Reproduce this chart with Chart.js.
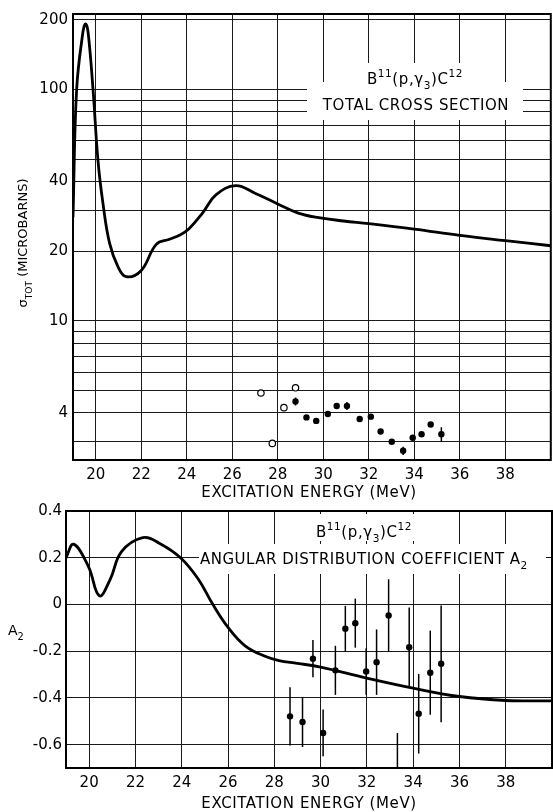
<!DOCTYPE html>
<html>
<head>
<meta charset="utf-8">
<script src="https://cdn.jsdelivr.net/npm/chart.js@4.4.0/dist/chart.umd.min.js"></script>
<style>
html, body { margin: 0; padding: 0; background: #fff; overflow: hidden; width: 553px; height: 812px; }
canvas { position: absolute; left: 0; }
#top { top: 0; }
#bottom { top: 495px; }
</style>
</head>
<body>
<canvas id="top" width="556" height="500"></canvas>
<canvas id="bottom" width="556" height="317"></canvas>
<script>
// Total cross section curve (MeV, microbarns)
const sigmaCurveE = [19.0, 19.16, 19.44, 19.55, 19.66, 19.88, 20.1, 20.32, 20.61, 20.98, 21.34, 22.0, 22.66, 23.24, 23.7, 24.1, 24.7, 25.28, 26.15, 27.0, 28.0, 28.9, 29.8, 30.9, 32.0, 34.0, 36.0, 38.0, 40.0];
const sigmaCurve = [28, 100, 178, 192, 178, 100, 49, 32, 21.6, 17.1, 15.5, 16.5, 21.4, 22.5, 23.5, 25, 29.3, 35, 38.4, 35.6, 32, 29.2, 27.9, 27.0, 26.3, 24.9, 23.4, 22.2, 21.1];

// measured points, open circles
const openE = [27.26, 27.76, 28.27, 28.78];
const openSigma = [4.87, 2.95, 4.21, 5.13];
// measured points, filled (error 0 = no bar drawn)
const filledE = [28.78, 29.26, 29.69, 30.2, 30.59, 31.04, 31.6, 32.09, 32.52, 33.01, 33.51, 33.93, 34.32, 34.72, 35.19];
const filledSigma = [4.48, 3.82, 3.69, 3.95, 4.28, 4.28, 3.76, 3.85, 3.32, 3.0, 2.74, 3.12, 3.23, 3.56, 3.23];
const filledSigmaErr = [0.18, 0, 0, 0, 0, 0.17, 0, 0, 0, 0, 0.11, 0, 0, 0, 0.23];

const sigmaTicks = [3, 4, 5, 6, 7, 8, 9, 10, 20, 30, 40, 50, 60, 70, 80, 90, 100, 200];
const sigmaLabels = [4, 10, 20, 40, 100, 200];
const energyTicks = [20, 22, 24, 26, 28, 30, 32, 34, 36, 38];

// Angular distribution coefficient A2
const a2CurveE = [19.0, 19.33, 19.97, 20.44, 20.9, 21.4, 22.32, 23.03, 23.97, 24.74, 25.31, 25.97, 26.74, 27.6, 28.2, 29.0, 30.0, 32.0, 34.0, 36.0, 38.0, 40.0];
const a2Curve = [0.2, 0.258, 0.162, 0.037, 0.105, 0.226, 0.286, 0.262, 0.198, 0.105, 0.006, -0.094, -0.177, -0.222, -0.24, -0.252, -0.268, -0.315, -0.358, -0.394, -0.411, -0.413];
const a2PointsE = [28.68, 29.22, 29.67, 30.11, 30.64, 31.07, 31.5, 31.97, 32.42, 32.94, 33.32, 33.83, 34.24, 34.74, 35.21];
const a2Points = [-0.479, -0.503, -0.232, -0.55, -0.282, -0.104, -0.08, -0.287, -0.247, -0.047, -0.76, -0.183, -0.468, -0.292, -0.254];
const a2Err = [0.125, 0.107, 0.08, 0.1, 0.105, 0.098, 0.105, 0.1, 0.14, 0.155, 0.21, 0.17, 0.17, 0.18, 0.25];
const a2Ticks = [-0.6, -0.4, -0.2, 0, 0.2, 0.4];

const FONT = '"DejaVu Sans", sans-serif';
Chart.defaults.font.family = FONT;
Chart.defaults.font.size = 15;
Chart.defaults.color = '#000';

const xy = (xs, ys) => xs.map((x, i) => ({ x: x, y: ys[i] }));

// text with super/subscripts: parts = [[text, '' | 'sup' | 'sub'], ...]
function richText(ctx, parts, x, y, size, align, spacing) {
  ctx.save();
  ctx.fillStyle = '#000';
  ctx.textBaseline = 'alphabetic';
  ctx.textAlign = 'left';
  ctx.letterSpacing = (spacing || 0) + 'px';
  const fontOf = k => (k ? size * 0.7 : size) + 'px ' + FONT;
  const widths = parts.map(([t, k]) => { ctx.font = fontOf(k); return ctx.measureText(t).width; });
  const total = widths.reduce((a, b) => a + b, 0);
  let cx = align === 'center' ? x - total / 2 : x;
  parts.forEach(([t, k], i) => {
    ctx.font = fontOf(k);
    const dy = k === 'sup' ? -size * 0.45 : (k === 'sub' ? size * 0.35 : 0);
    ctx.fillText(t, cx, y + dy);
    cx += widths[i];
  });
  ctx.restore();
}

function whiteBox(ctx, x, y, w, h) {
  ctx.save();
  ctx.fillStyle = '#fff';
  ctx.fillRect(x, y, w, h);
  ctx.restore();
}

function frame(chart) {
  const a = chart.chartArea;
  const ctx = chart.ctx;
  ctx.save();
  ctx.strokeStyle = '#000';
  ctx.lineWidth = 2;
  ctx.strokeRect(a.left, a.top, a.right - a.left, a.bottom - a.top);
  ctx.restore();
}

function errorBars(chart, xs, ys, errs, width) {
  const ctx = chart.ctx;
  const a = chart.chartArea;
  const sx = chart.scales.x, sy = chart.scales.y;
  ctx.save();
  ctx.beginPath();
  ctx.rect(a.left, a.top, a.right - a.left, a.bottom - a.top);
  ctx.clip();
  ctx.strokeStyle = '#000';
  ctx.lineWidth = width;
  xs.forEach((x, i) => {
    if (!errs[i]) return;
    const px = sx.getPixelForValue(x);
    ctx.beginPath();
    ctx.moveTo(px, sy.getPixelForValue(ys[i] - errs[i]));
    ctx.lineTo(px, sy.getPixelForValue(ys[i] + errs[i]));
    ctx.stroke();
  });
  ctx.restore();
}

const gridStyle = { color: '#1a1a1a', lineWidth: 1, drawTicks: false };

const energyAxis = (w) => ({
  type: 'linear',
  min: 19,
  max: 40,
  afterBuildTicks: axis => { axis.ticks = energyTicks.map(v => ({ value: v })); },
  afterFit: scale => { scale.height = w; },
  grid: gridStyle,
  border: { color: '#000', width: 2 },
  ticks: { padding: 6, autoSkip: false, maxRotation: 0, callback: v => String(v) }
});

// ---- top: total cross section ----
new Chart(document.getElementById('top'), {
  type: 'scatter',
  data: {
    datasets: [
      {
        type: 'line',
        data: xy(sigmaCurveE, sigmaCurve),
        borderColor: '#000',
        borderWidth: 2.8,
        pointRadius: 0,
        tension: 0.4,
        fill: false
      },
      {
        data: xy(openE, openSigma),
        pointRadius: 3.2,
        pointBackgroundColor: '#fff',
        pointBorderColor: '#000',
        pointBorderWidth: 1.2
      },
      {
        data: xy(filledE, filledSigma),
        pointRadius: 3.2,
        pointBackgroundColor: '#000',
        pointBorderColor: '#000',
        pointBorderWidth: 0
      }
    ]
  },
  options: {
    responsive: false,
    animation: false,
    events: [],
    layout: { padding: { top: 14, right: 1, left: 0, bottom: 0 } },
    plugins: { legend: { display: false }, tooltip: { enabled: false } },
    scales: {
      x: energyAxis(40),
      y: {
        type: 'logarithmic',
        min: 2.5,
        max: 212,
        afterBuildTicks: axis => { axis.ticks = sigmaTicks.map(v => ({ value: v })); },
        afterFit: scale => { scale.width = 73; },
        grid: gridStyle,
        border: { color: '#000', width: 2 },
        ticks: { padding: 5, autoSkip: false, callback: v => sigmaLabels.includes(v) ? String(v) : '' }
      }
    }
  },
  plugins: [{
    id: 'topDecor',
    beforeDatasetsDraw(chart) {
      const ctx = chart.ctx;
      whiteBox(ctx, 366, 63, 100, 21);
      whiteBox(ctx, 307, 82, 216, 38);
    },
    afterDatasetsDraw(chart) {
      errorBars(chart, filledE, filledSigma, filledSigmaErr, 1.5);
    },
    afterDraw(chart) {
      const ctx = chart.ctx;
      frame(chart);
      richText(ctx, [['B', ''], ['11', 'sup'], ['(p,\u03b3', ''], ['3', 'sub'], [')C', ''], ['12', 'sup']], 415, 84, 15, 'center', 0.6);
      richText(ctx, [['TOTAL CROSS SECTION', '']], 416, 110, 15, 'center', 0.6);
      richText(ctx, [['EXCITATION ENERGY (MeV)', '']], 309, 497, 15, 'center', 0.6);
      // rotated y title
      ctx.save();
      ctx.translate(27, 243);
      ctx.rotate(-Math.PI / 2);
      richText(ctx, [['\u03c3', ''], ['TOT', 'sub'], [' (MICROBARNS)', '']], 0, 0, 13, 'center', 0);
      ctx.restore();
    }
  }]
});

// ---- bottom: angular distribution coefficient ----
new Chart(document.getElementById('bottom'), {
  type: 'scatter',
  data: {
    datasets: [
      {
        type: 'line',
        data: xy(a2CurveE, a2Curve),
        borderColor: '#000',
        borderWidth: 2.8,
        pointRadius: 0,
        tension: 0.4,
        fill: false
      },
      {
        data: xy(a2PointsE, a2Points),
        pointRadius: 3.2,
        pointBackgroundColor: '#000',
        pointBorderColor: '#000',
        pointBorderWidth: 0
      }
    ]
  },
  options: {
    responsive: false,
    animation: false,
    events: [],
    layout: { padding: { top: 16, right: 0, left: 0, bottom: 0 } },
    plugins: { legend: { display: false }, tooltip: { enabled: false } },
    scales: {
      x: energyAxis(44),
      y: {
        type: 'linear',
        min: -0.7,
        max: 0.4,
        afterBuildTicks: axis => { axis.ticks = a2Ticks.map(v => ({ value: v })); },
        afterFit: scale => { scale.width = 66; },
        grid: gridStyle,
        border: { color: '#000', width: 2 },
        ticks: { padding: 4, autoSkip: false, callback: v => Math.abs(v) < 1e-9 ? '0' : v.toFixed(1) }
      }
    }
  },
  plugins: [{
    id: 'bottomDecor',
    beforeDatasetsDraw(chart) {
      const ctx = chart.ctx;
      whiteBox(ctx, 308, 19, 112, 27);
      whiteBox(ctx, 199, 49, 347, 30);
    },
    afterDatasetsDraw(chart) {
      errorBars(chart, a2PointsE, a2Points, a2Err, 1.5);
    },
    afterDraw(chart) {
      const ctx = chart.ctx;
      frame(chart);
      richText(ctx, [['B', ''], ['11', 'sup'], ['(p,\u03b3', ''], ['3', 'sub'], [')C', ''], ['12', 'sup']], 364, 42, 15, 'center', 0.6);
      richText(ctx, [['ANGULAR DISTRIBUTION COEFFICIENT A', ''], ['2', 'sub']], 200, 69, 15, 'left', 0.5);
      richText(ctx, [['EXCITATION ENERGY (MeV)', '']], 309, 313, 15, 'center', 0.6);
      richText(ctx, [['A', ''], ['2', 'sub']], 8, 140, 14, 'left', 0);
    }
  }]
});
</script>
</body>
</html>
